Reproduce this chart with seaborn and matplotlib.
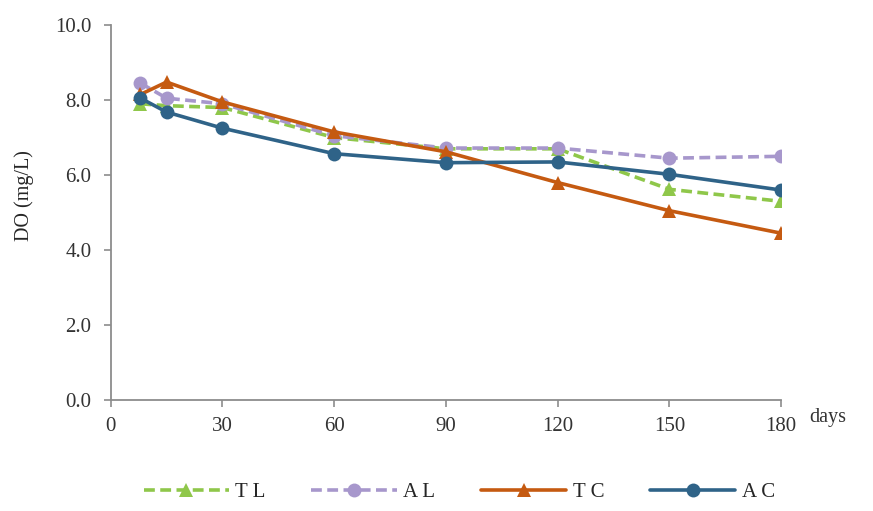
import matplotlib
matplotlib.use('Agg')
import matplotlib.pyplot as plt
import pandas as pd
import seaborn as sns

# Data
days = [8, 15, 30, 60, 90, 120, 150, 180]
tl = [7.9, 7.85, 7.8, 7.0, 6.7, 6.7, 5.62, 5.3]
al = [8.45, 8.05, 7.9, 7.05, 6.72, 6.72, 6.45, 6.5]
tc = [8.15, 8.48, 7.95, 7.15, 6.62, 5.8, 5.05, 4.45]
ac = [8.05, 7.68, 7.25, 6.57, 6.33, 6.35, 6.02, 5.6]

series = ['T L', 'A L', 'T C', 'A C']
values = [tl, al, tc, ac]
colors = ['#8FC74A', '#A797CC', '#C55A11', '#2F6388']
markers = ['^', 'o', '^', 'o']
dashed = [True, True, False, False]

x_ticks = [0, 30, 60, 90, 120, 150, 180]
y_ticks = [0, 2, 4, 6, 8, 10]

sns.set_style('white')
serif = 'Liberation Serif'

fig = plt.figure(figsize=(8.73, 5.11), dpi=100)
ax = fig.add_axes([0.1268, 0.217, 0.768, 0.734])

for name, vals, col, mk, ds in zip(series, values, colors, markers, dashed):
    df = pd.DataFrame({'day': days, 'DO': vals})
    sns.lineplot(
        data=df, x='day', y='DO', ax=ax,
        color=col, marker=mk, markersize=10, markeredgewidth=0,
        linewidth=2.6, linestyle='--' if ds else '-',
        label=name,
    )
    if ds:
        ax.lines[-1].set_dashes([3, 1.5])

ax.set_xlim(0, 180)
ax.set_ylim(0, 10)
ax.set_xticks(x_ticks)
ax.set_yticks(y_ticks)
ax.set_yticklabels([f'{v:.1f}' for v in y_ticks], fontfamily=serif, fontsize=15)
ax.set_xticklabels([str(v) for v in x_ticks], fontfamily=serif, fontsize=15)
ax.set_xlabel('')
ax.set_ylabel('DO (mg/L)', fontfamily=serif, fontsize=14.5)
ax.yaxis.set_label_coords(-0.115, 0.545)

for side in ['top', 'right']:
    ax.spines[side].set_visible(False)
for side in ['left', 'bottom']:
    ax.spines[side].set_color('#8c8c8c')
    ax.spines[side].set_linewidth(1.3)
ax.tick_params(axis='both', direction='out', length=5, width=1.2,
               color='#8c8c8c', colors='#333333', left=True, bottom=True)
ax.tick_params(axis='y', pad=9)
ax.tick_params(axis='x', pad=7)

fig.text(0.948, 0.182, 'days', fontfamily=serif, fontsize=14.5,
         ha='center', va='center', color='#333333')

ax.legend().remove()
handles, labels = ax.get_legend_handles_labels()
fig.legend(handles, labels, loc='center', bbox_to_anchor=(0.526, 0.036), ncol=4,
           frameon=False, handlelength=4.1, columnspacing=2.2,
           handletextpad=0.3, prop={'family': serif, 'size': 15})

fig.savefig('out.png', dpi=100)
